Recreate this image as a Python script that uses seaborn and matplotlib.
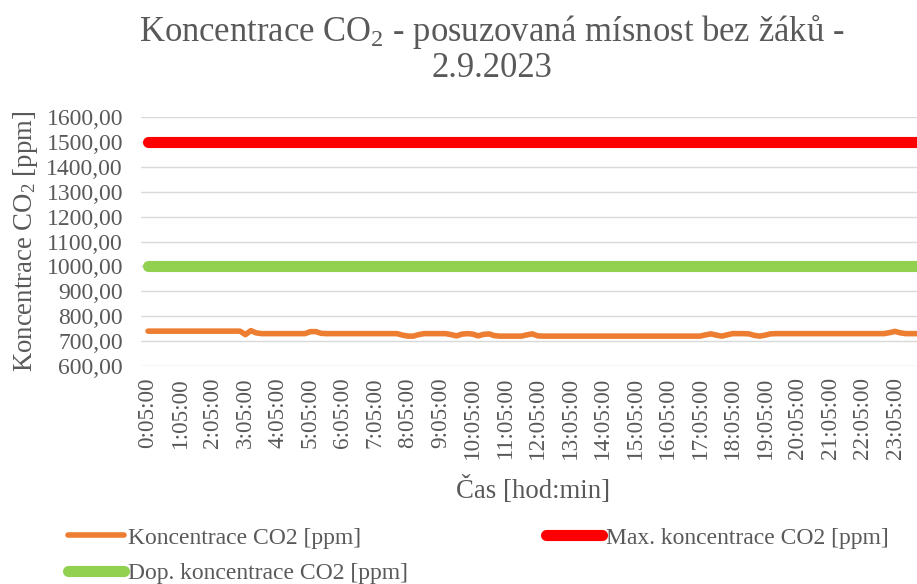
import matplotlib
matplotlib.use("Agg")
import matplotlib.pyplot as plt
from matplotlib.ticker import FuncFormatter
import pandas as pd
import seaborn as sns

# Measurement times (10-minute steps) and CO2 readings
times = [f"{h}:{m:02d}:00" for h in range(24) for m in range(5, 60, 10)]
co2 = [
    740, 740, 740, 740, 740, 740,   # 0:05
    740, 740, 740, 740, 740, 740,   # 1:05
    740, 740, 740, 740, 740, 740,   # 2:05
    726, 742, 733, 730, 730, 730,   # 3:05
    730, 730, 730, 730, 730, 730,   # 4:05
    738, 738, 731, 730, 730, 730,   # 5:05
    730, 730, 730, 730, 730, 730,   # 6:05
    730, 730, 730, 730, 730, 724,   # 7:05
    720, 720, 726, 730, 730, 730,   # 8:05
    730, 730, 726, 721, 728, 730,   # 9:05
    728, 721, 727, 729, 722, 720,   # 10:05
    720, 720, 720, 720, 725, 729,   # 11:05
    721, 720, 720, 720, 720, 720,   # 12:05
    720, 720, 720, 720, 720, 720,   # 13:05
    720, 720, 720, 720, 720, 720,   # 14:05
    720, 720, 720, 720, 720, 720,   # 15:05
    720, 720, 720, 720, 720, 720,   # 16:05
    720, 725, 729, 724, 720, 725,   # 17:05
    730, 730, 730, 729, 723, 720,   # 18:05
    724, 729, 730, 730, 730, 730,   # 19:05
    730, 730, 730, 730, 730, 730,   # 20:05
    730, 730, 730, 730, 730, 730,   # 21:05
    730, 730, 730, 730, 730, 734,   # 22:05
    739, 733, 730, 730, 730, 730,   # 23:05
]
max_limit = [1500] * len(times)
allowed_limit = [1000] * len(times)
y_ticks = [600, 700, 800, 900, 1000, 1100, 1200, 1300, 1400, 1500, 1600]

df = pd.DataFrame({
    "pos": range(len(times)),
    "cas": times,
    "co2": co2,
    "max": max_limit,
    "dop": allowed_limit,
})

sns.set_theme(style="white")
plt.rcParams["font.family"] = ["Liberation Serif", "DejaVu Serif"]
plt.rcParams["mathtext.fontset"] = "custom"
plt.rcParams["mathtext.rm"] = "Liberation Serif"
plt.rcParams["mathtext.it"] = "Liberation Serif:italic"
plt.rcParams["mathtext.bf"] = "Liberation Serif:bold"

GREY = "#595959"
W, H = 917, 584

fig = plt.figure(figsize=(W / 100, H / 100), dpi=100)
ax = fig.add_axes([141 / W, 1 - 366 / H, 1 - 141 / W, (366 - 117) / H])

sns.lineplot(data=df, x="pos", y="max", ax=ax, color="#ff0000", linewidth=8,
             solid_capstyle="round", label="Max. koncentrace CO2 [ppm]")
sns.lineplot(data=df, x="pos", y="dop", ax=ax, color="#92d050", linewidth=8,
             solid_capstyle="round", label="Dop. koncentrace CO2 [ppm]")
sns.lineplot(data=df, x="pos", y="co2", ax=ax, color="#ed7d31", linewidth=4,
             solid_capstyle="round", label="Koncentrace CO2 [ppm]")

ax.set_ylim(600, 1600)
ax.set_xlim(-1.29, 142.06)
ax.set_yticks(y_ticks)
ax.yaxis.set_major_formatter(FuncFormatter(lambda v, p: f"{v:.2f}".replace(".", ",")))
tick_pos = list(range(0, len(times), 6))
ax.set_xticks(tick_pos)
ax.set_xticklabels([times[i] for i in tick_pos], rotation=90)
ax.grid(axis="y", color="#d9d9d9", linewidth=1)
ax.set_axisbelow(True)
for s in ax.spines.values():
    s.set_visible(False)
ax.tick_params(axis="y", length=0, pad=13, labelsize=17, labelcolor=GREY)
ax.tick_params(axis="x", length=0, pad=8, labelsize=16.7, labelcolor=GREY)
ax.set_xlabel("")
ax.set_ylabel("")

# Legend: Koncentrace / Dop. in first column, Max. in second
handles, labels = ax.get_legend_handles_labels()
order = [2, 1, 0]
ax.get_legend().remove()
fig.legend([handles[i] for i in order], [labels[i] for i in order],
           loc="upper left", bbox_to_anchor=(68 / W, 1 - 527 / H),
           ncol=2, frameon=False, fontsize=17, labelcolor=GREY,
           handlelength=2.37, handletextpad=0.17, columnspacing=5.85,
           borderpad=0, borderaxespad=0, labelspacing=0.6)

# Two-line chart title
fig.text(491.5 / W, 1 - 41 / H, "Koncentrace CO$_2$ - posuzovaná mísnost bez žáků -",
         ha="center", va="baseline", fontsize=24.9, color=GREY)
fig.text(491.5 / W, 1 - 77 / H, "2.9.2023",
         ha="center", va="baseline", fontsize=24.9, color=GREY)
fig.text(26 / W, 1 - 241 / H, "Koncentrace CO$_2$ [ppm]", rotation=90,
         ha="center", va="center", fontsize=19.3, color=GREY)
fig.text(533.5 / W, 1 - 490 / H, "Čas [hod:min]", ha="center", va="center",
         fontsize=19.3, color=GREY)

fig.savefig("out.png", dpi=100, facecolor="white")
